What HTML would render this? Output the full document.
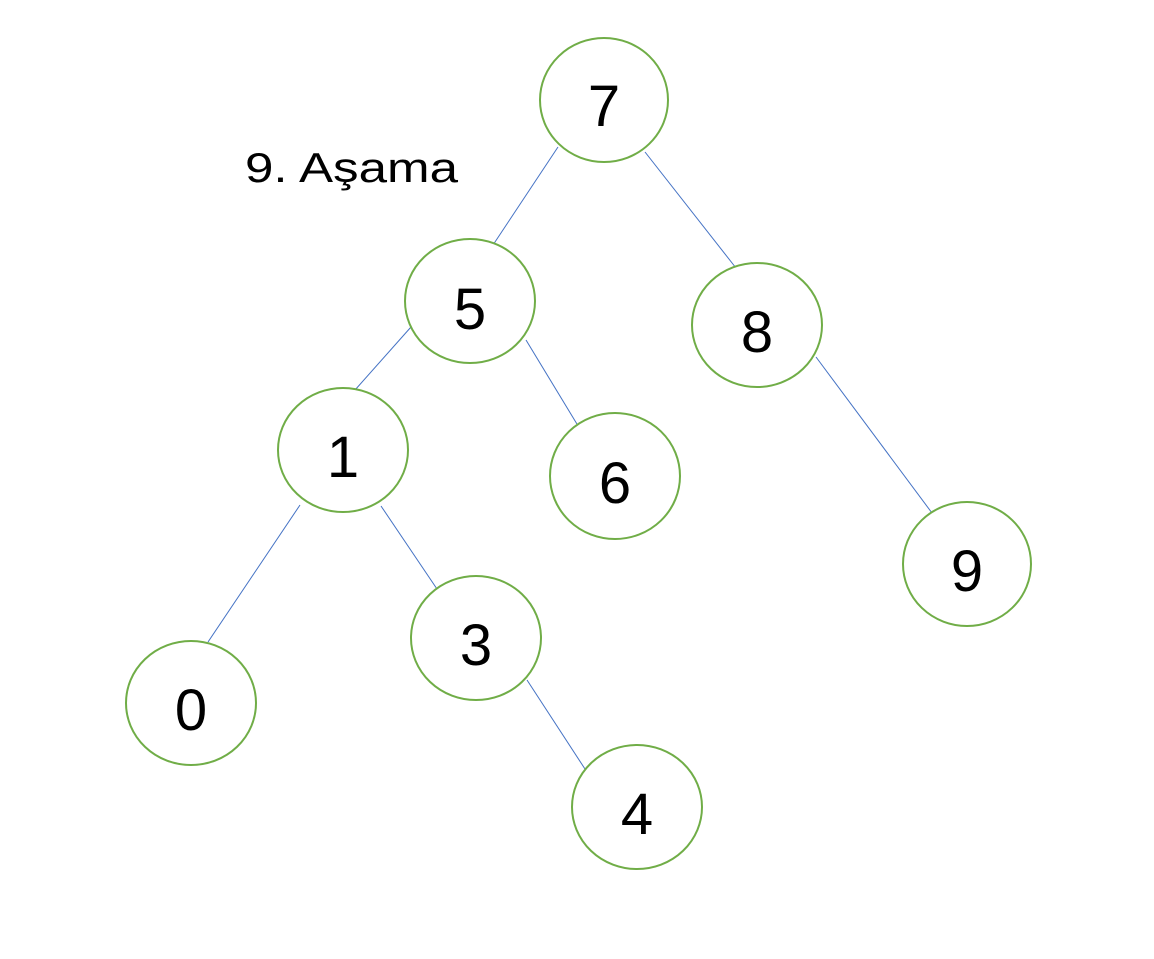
<!DOCTYPE html>
<html><head><style>html,body{margin:0;padding:0;background:#fff}</style></head>
<body>
<svg width="1154" height="954" xmlns="http://www.w3.org/2000/svg">
<g stroke="#4472c4" stroke-width="1">
<line x1="558" y1="147" x2="493" y2="245"/>
<line x1="645" y1="152" x2="736" y2="268"/>
<line x1="411" y1="327" x2="355" y2="390"/>
<line x1="526" y1="340" x2="583" y2="434"/>
<line x1="816" y1="357" x2="932" y2="513"/>
<line x1="300" y1="505" x2="208" y2="642"/>
<line x1="381" y1="506" x2="437" y2="589"/>
<line x1="527" y1="680" x2="585" y2="769"/>
</g>
<g fill="#fff" stroke="#70ad47" stroke-width="2">
<ellipse cx="604" cy="100" rx="64" ry="62"/>
<ellipse cx="470" cy="301" rx="65" ry="62"/>
<ellipse cx="757" cy="325" rx="65" ry="62"/>
<ellipse cx="343" cy="450" rx="65" ry="62"/>
<ellipse cx="615" cy="476" rx="65" ry="63"/>
<ellipse cx="967" cy="564" rx="64" ry="62"/>
<ellipse cx="476" cy="638" rx="65" ry="62"/>
<ellipse cx="191" cy="703" rx="65" ry="62"/>
<ellipse cx="637" cy="807" rx="65" ry="62"/>
</g>
<g font-family="Liberation Sans, sans-serif" font-size="58" text-anchor="middle" fill="#000">
<text x="604" y="126">7</text>
<text x="470" y="329">5</text>
<text x="757" y="352">8</text>
<text x="343" y="477">1</text>
<text x="615" y="503">6</text>
<text x="967" y="591">9</text>
<text x="476" y="665">3</text>
<text x="191" y="730">0</text>
<text x="637" y="834">4</text>
</g>
<text x="245" y="182" font-family="Liberation Sans, sans-serif" font-size="42" textLength="213" lengthAdjust="spacingAndGlyphs" fill="#000">9. Aşama</text>
</svg>
</body></html>
